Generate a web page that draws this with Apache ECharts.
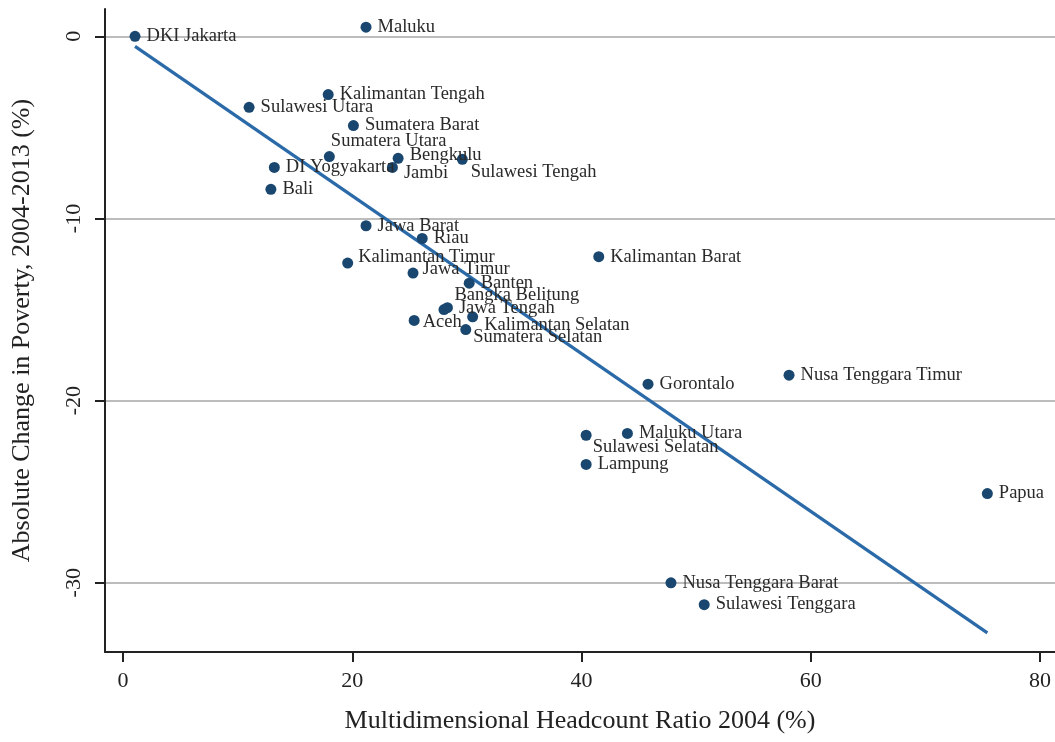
<!DOCTYPE html>
<html>
<head>
<meta charset="utf-8">
<script src="https://cdn.jsdelivr.net/npm/echarts@6/dist/echarts.min.js"></script>
<style>
  html, body { margin: 0; padding: 0; background: #fff; }
  #chart { width: 1055px; height: 742px; }
</style>
</head>
<body>
<div id="chart"></div>
<script>
// provinces, MPI headcount 2004 (%) and change in poverty 2004-2013 (%)
const provinces = [
  'DKI Jakarta', 'Maluku', 'Kalimantan Tengah', 'Sulawesi Utara', 'Sumatera Barat',
  'Sumatera Utara', 'Bengkulu', 'Jambi', 'Sulawesi Tengah', 'DI Yogyakarta',
  'Bali', 'Jawa Barat', 'Riau', 'Kalimantan Timur', 'Jawa Timur',
  'Kalimantan Barat', 'Banten', 'Bangka Belitung', 'Jawa Tengah', 'Kalimantan Selatan',
  'Aceh', 'Sumatera Selatan', 'Gorontalo', 'Nusa Tenggara Timur', 'Sulawesi Selatan',
  'Maluku Utara', 'Lampung', 'Papua', 'Nusa Tenggara Barat', 'Sulawesi Tenggara'
]
const headcount2004 = [
  1.05, 21.2, 17.9, 11.0, 20.1,
  18.0, 24.0, 23.5, 29.6, 13.2,
  12.9, 21.2, 26.1, 19.6, 25.3,
  41.5, 30.2, 28.0, 28.3, 30.5,
  25.4, 29.9, 45.8, 58.1, 40.4,
  44.0, 40.4, 75.4, 47.8, 50.7
]
const povertyChange = [
  0.0, 0.5, -3.2, -3.9, -4.9,
  -6.6, -6.7, -7.2, -6.75, -7.2,
  -8.4, -10.4, -11.1, -12.45, -13.0,
  -12.1, -13.55, -15.0, -14.9, -15.4,
  -15.6, -16.1, -19.1, -18.6, -21.9,
  -21.8, -23.5, -25.1, -30.0, -31.2
]
// fitted line endpoints
const fitX = [1.05, 75.4]
const fitY = [-0.55, -32.75]

const xTicks = [0, 20, 40, 60, 80]
const yTicks = [-30, -20, -10, 0]

// label nudges (dx, dy) away from default right placement
const labelNudge = {
  'Sumatera Utara': [-10, -15],
  'Jambi': [0, 6],
  'Sulawesi Tengah': [-3, 13],
  'Bengkulu': [0, -3],
  'Kalimantan Timur': [-1, -6],
  'Jawa Timur': [-2, -4],
  'Bangka Belitung': [-1, -14],
  'Kalimantan Selatan': [0, 8],
  'Sumatera Selatan': [-4, 8],
  'Sulawesi Selatan': [-5, 12],
  'Aceh': [-3, 2]
}

const serif = '"Liberation Serif", "DejaVu Serif", serif'

const points = provinces.map((name, i) => ({ name: name, value: [headcount2004[i], povertyChange[i]] }))

const chart = echarts.init(document.getElementById('chart'))

const option = {
  animation: false,
  backgroundColor: '#fff',
  grid: { left: 105, right: 0, top: 9, bottom: 90 },
  xAxis: {
    type: 'value',
    min: -1.57,
    max: 81.3,
    name: 'Multidimensional Headcount Ratio 2004 (%)',
    nameLocation: 'middle',
    nameGap: 56,
    nameTextStyle: { fontFamily: serif, fontSize: 26, color: '#222' },
    axisLine: { onZero: false, lineStyle: { color: '#222', width: 2 } },
    axisTick: { show: true, length: 10, customValues: xTicks, lineStyle: { color: '#222', width: 2 } },
    axisLabel: { customValues: xTicks, margin: 18, fontFamily: serif, fontSize: 22, color: '#222' },
    splitLine: { show: false }
  },
  yAxis: {
    type: 'value',
    min: -33.8,
    max: 1.5,
    name: 'Absolute Change in Poverty, 2004-2013 (%)',
    nameLocation: 'middle',
    nameGap: 70,
    nameRotate: 90,
    nameTextStyle: { fontFamily: serif, fontSize: 26, color: '#222' },
    axisLine: { onZero: false, lineStyle: { color: '#222', width: 2 } },
    axisTick: { show: true, length: 10, customValues: yTicks, lineStyle: { color: '#222', width: 2 } },
    axisLabel: { customValues: yTicks, rotate: 90, margin: 20, fontFamily: serif, fontSize: 22, color: '#222' },
    splitLine: { show: true, lineStyle: { color: '#a6a6a6', width: 1.5 } }
  },
  series: [
    {
      name: 'fit',
      type: 'line',
      data: fitX.map((x, i) => [x, fitY[i]]),
      symbol: 'none',
      lineStyle: { color: '#2b6aa8', width: 3.2 },
      z: 3
    },
    {
      name: 'provinces',
      type: 'scatter',
      data: points,
      symbolSize: 11,
      itemStyle: { color: '#1a476f', opacity: 1 },
      label: {
        show: true,
        position: 'right',
        distance: 6,
        formatter: '{b}',
        fontFamily: serif,
        fontSize: 18.5,
        color: '#2a2a2a'
      },
      labelLayout: function (params) {
        const nudge = labelNudge[provinces[params.dataIndex]]
        if (!nudge) return {}
        return { dx: nudge[0], dy: nudge[1] }
      },
      z: 4
    }
  ]
}

chart.setOption(option)
</script>
</body>
</html>
